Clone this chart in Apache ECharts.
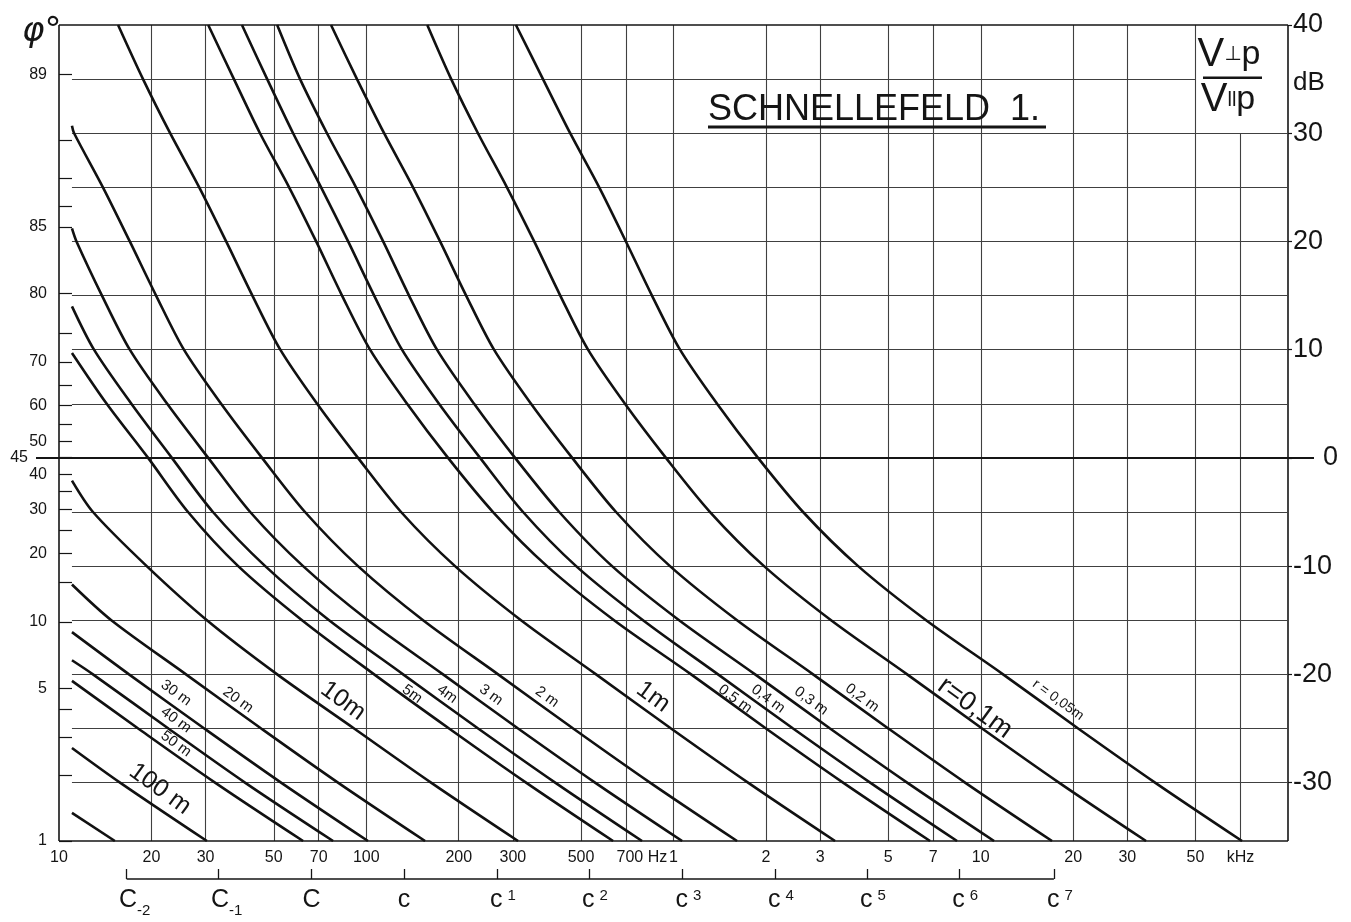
<!DOCTYPE html>
<html><head><meta charset="utf-8">
<script src="https://cdn.jsdelivr.net/npm/echarts@6/dist/echarts.min.js"></script>
<style>html,body{margin:0;padding:0;background:#fff;}#c{width:1351px;height:922px;}</style>
</head><body><div id="c"></div>
<script>
// ---------------- data ----------------
const dbFull = [40,35,30,25,20,15,10,5,0,-5,-10,-15,-20,-25,-30,-35.4];
const f_r005 = [307,376,461,573,700,851,1050,1386,1884,2640,3990,6640,11820,20750,36920,70860];
const f_r01  = [158,189,231,287,352,428,527,695,945,1315,1971,3257,5760,10100,17970,34510];
const f_r02  = [76.8,93.3,114.3,142,173.9,211.4,260.5,343.8,468,650,974,1610,2846,5000,8890,17060];
const f_r03  = [51.3,60.9,74.5,92.6,113.5,137.8,169.9,224.4,305,424.7,631,1043,1843,3232,5760,11050];
const f_r04  = [39.4,47.6,57.8,71.3,87.3,106.1,130.7,172.5,234.7,323.8,482,795.8,1396,2450,4366,8372];
const f_r05  = [30.6,37.1,45.1,56.1,68.7,83.4,102.9,135.8,184.6,258.6,387.6,640.5,1141,2000,3563,6840];
const f_r1   = [15.57,18.77,23.0,28.6,35.0,42.6,52.5,69.2,94.0,129.8,194.5,318.9,559.8,981.7,1748,3356];
const f_r2   = [11.02,11.2,13.9,17.0,20.7,25.5,33.7,45.8,63.2,94.0,153.1,268.6,471.5,838.8,1610];
const db_r2  = [30.7,30,25,20,15,10,5,0,-5,-10,-15,-20,-25,-30,-35.4];
const f_r3   = [11.02,11.4,13.8,17.0,22.5,30.6,41.9,62.3,101.3,177.8,312,555.5,1067];
const db_r3  = [21.2,20,15,10,5,0,-5,-10,-15,-20,-25,-30,-35.4];
const f_r4   = [11.02,13.0,17.2,23.3,31.7,46.9,75.7,131.8,231.3,412,790];
const db_r4  = [14.0,10,5,0,-5,-10,-15,-20,-25,-30,-35.4];
const f_r5   = [11.02,14.3,19.5,26.3,38.3,61.8,106.1,186,331.2,635.9];
const db_r5  = [9.7,5,0,-5,-10,-15,-20,-25,-30,-35.4];
const f_r10  = [11.02,12.9,19.3,30.3,51.3,91.3,162.5,312];
const db_r10 = [-2.1,-5,-10,-15,-20,-25,-30,-35.4];
const f_r20  = [11.02,14.8,25.9,45.5,80.9,155.4];
const db_r20 = [-11.7,-15,-20,-25,-30,-35.4];
const f_r30  = [11.02,16.9,29.7,52.8,101.3];
const db_r30 = [-16.1,-20,-25,-30,-35.4];
const f_r40  = [11.02,12.9,22.7,40.3,78.0];
const db_r40 = [-18.7,-20,-25,-30,-35.4];
const f_r50  = [11.02,18.1,32.2,62.3];
const db_r50 = [-20.6,-25,-30,-35.4];
const f_r100 = [11.02,15.8,30.3];
const db_r100= [-26.8,-30,-35.4];
const f_r200 = [11.02,15.2];
const db_r200= [-32.8,-35.4];

const gridFreqs  = [10,20,30,50,70,100,200,300,500,700,1000,2000,3000,5000,7000,10000,20000,30000,50000,70000,100000];
const freqLabels = ['10','20','30','50','70','100','200','300','500','700 Hz','1','2','3','5','7','10','20','30','50','kHz',''];
const dbGrid     = [35,30,25,20,15,10,5,-5,-10,-15,-20,-25,-30];
const dbLabels   = [40,30,20,10,0,-10,-20,-30];
const phiTicks   = [89,88,87,86,85,80,75,70,65,60,55,50,45,40,35,30,25,20,15,10,5,4,3,2,1];
const phiLabels  = [89,85,80,70,60,50,45,40,30,20,10,5,1];
const noteFreqs  = [16.6,33.1,66.3,132.7,266,531,1070,2140,4260,8500,17300];
const noteBase   = ['C','C','C','c','c','c','c','c','c','c','c'];
const noteIndex  = ['-2','-1','','','1','2','3','4','5','6','7'];

const curves = [
  {name:'0,05 m', f:f_r005, db:dbFull}, {name:'0,1 m', f:f_r01, db:dbFull},
  {name:'0,2 m', f:f_r02, db:dbFull}, {name:'0,3 m', f:f_r03, db:dbFull},
  {name:'0,4 m', f:f_r04, db:dbFull}, {name:'0,5 m', f:f_r05, db:dbFull},
  {name:'1 m', f:f_r1, db:dbFull}, {name:'2 m', f:f_r2, db:db_r2},
  {name:'3 m', f:f_r3, db:db_r3}, {name:'4 m', f:f_r4, db:db_r4},
  {name:'5 m', f:f_r5, db:db_r5}, {name:'10 m', f:f_r10, db:db_r10},
  {name:'20 m', f:f_r20, db:db_r20}, {name:'30 m', f:f_r30, db:db_r30},
  {name:'40 m', f:f_r40, db:db_r40}, {name:'50 m', f:f_r50, db:db_r50},
  {name:'100 m', f:f_r100, db:db_r100}, {name:'200 m', f:f_r200, db:db_r200}
];

// ---------------- layout / styling ----------------
const X_MIN = 8.417, X_MAX = 121500;   // axis range (frame = 10 Hz .. 100 kHz)
const Y_MIN = -35.4, Y_MAX = 40;
const F_START = 11.02;                  // where horizontal grid lines / curves begin
const phiToDb = p => 20 * Math.log10(Math.tan(p * Math.PI / 180));
const LEFT_MIN = phiToDb(1), LEFT_MAX = 39.7;
const FONT = "'Liberation Sans', Arial, sans-serif";
const INK = '#151515', GRID = '#404040';

const vLines = gridFreqs.map((f, i) => {
  const frame = (f === 10 || f === 100000);
  const lab = freqLabels[i];
  return [
    { coord: [f, Y_MIN],
      lineStyle: { width: frame ? 1.6 : 1.1, color: frame ? INK : GRID, type: 'solid' },
      label: { show: lab !== '', formatter: lab, padding: lab === '700 Hz' ? [0, 0, 0, 32] : 0 } },
    { coord: [f, f === 70000 ? 30 : Y_MAX] }
  ];
});
const hLines = dbGrid.map(v => [
  { coord: [F_START, v], lineStyle: { width: 1.1, color: GRID, type: 'solid' } },
  { coord: [v === 35 ? 50000 : 100000, v] }
]);
hLines.push([{ coord: [10, Y_MAX], lineStyle: { width: 1.6, color: INK, type: 'solid' } }, { coord: [100000, Y_MAX] }]);
hLines.push([{ coord: [10, Y_MIN], lineStyle: { width: 1.6, color: INK, type: 'solid' } }, { coord: [100000, Y_MIN] }]);
hLines.push({ yAxis: 0, lineStyle: { width: 1.9, color: INK, type: 'solid' } });

const noteLines = noteFreqs.map((f, i) => {
  const idx = noteIndex[i];
  let txt = '{b|' + noteBase[i] + '}';
  if (idx.startsWith('-')) txt += '{s|' + idx + '}';
  else if (idx) txt += '{p|' + idx + '}';
  return [
    { coord: [f, 0], lineStyle: { width: 1.3, color: INK, type: 'solid' },
      label: { show: true, formatter: txt, padding: idx.startsWith('-') ? [0, 0, 0, 16] : (idx ? [0, 0, 0, 12] : 0) } },
    { coord: [f, 1] }
  ];
});

const curveSeries = curves.map(c => ({
  type: 'line', name: c.name, xAxisIndex: 0, yAxisIndex: 0,
  data: c.f.map((f, i) => [f, c.db[i]]),
  showSymbol: false, symbol: 'none', smooth: 0.3,
  lineStyle: { color: '#111', width: 2.6 }, silent: true, z: 5
}));

const curveLabels = [
  ['30 m',176,693,15], ['40 m',176,720,15], ['50 m',176,744,15], ['100 m',160,789,25],
  ['20 m',238,700,15], ['10m',343,701,25], ['5m',412,694,15], ['4m',447,694,15],
  ['3 m',491,695,15], ['2 m',547,697,15], ['1m',653,697,25], ['0,5 m',735,699,15],
  ['0,4 m',768,699,15], ['0,3 m',811,701,15], ['0,2 m',862,698,15], ['r=0,1m',975,708,27],
  ['r = 0,05m',1058,700,14]
];
const ROT = -36 * Math.PI / 180;

const graphics = curveLabels.map(([t, x, y, s]) => ({
  type: 'text', x: x, y: y, rotation: ROT, z: 10, silent: true,
  style: { text: t, fill: INK, font: s + 'px ' + FONT, textAlign: 'center', textVerticalAlign: 'middle' }
}));
graphics.push(
  { type: 'text', x: 708, y: 110, z: 10, style: { text: 'SCHNELLEFELD  1.', fill: INK, font: '36px ' + FONT, textAlign: 'left', textVerticalAlign: 'middle' } },
  { type: 'rect', shape: { x: 708, y: 125.5, width: 338, height: 3 }, style: { fill: INK }, z: 10 },
  { type: 'text', x: 22, y: 32, z: 10, style: { text: 'φ°', fill: INK, font: 'italic 34px DejaVu Sans', textAlign: 'left', textVerticalAlign: 'middle' } },
  { type: 'rect', shape: { x: 1197, y: 27, width: 89, height: 104 }, style: { fill: '#fff' }, z: 2 },
  { type: 'text', x: 1229, y: 55, z: 10, style: {
      text: '{v|V}{s|⊥}{p|p}', textAlign: 'center', textVerticalAlign: 'middle',
      rich: { v: { font: "40px 'Liberation Sans Narrow', " + FONT, fill: INK },
              s: { font: '20px DejaVu Sans', fill: INK },
              p: { font: "34px 'Liberation Sans Narrow', " + FONT, fill: INK } } } },
  { type: 'rect', shape: { x: 1203, y: 76.5, width: 59, height: 2.6 }, style: { fill: INK }, z: 10 },
  { type: 'text', x: 1228, y: 100, z: 10, style: {
      text: '{v|V}{s|ll}{p|p}', textAlign: 'center', textVerticalAlign: 'middle',
      rich: { v: { font: "40px 'Liberation Sans Narrow', " + FONT, fill: INK },
              s: { font: "20px 'Liberation Sans Narrow', " + FONT, fill: INK },
              p: { font: "34px 'Liberation Sans Narrow', " + FONT, fill: INK } } } },
  { type: 'text', x: 1309, y: 83, z: 10, style: { text: 'dB', fill: INK, font: '26px ' + FONT, textAlign: 'center', textVerticalAlign: 'middle' } }
);

const option = {
  animation: false,
  backgroundColor: '#fff',
  textStyle: { fontFamily: FONT },
  grid: [
    { left: 36, right: 37, top: 25, bottom: 81, show: false },
    { left: 36, right: 37, top: 869, height: 10, show: false }
  ],
  xAxis: [
    { type: 'log', logBase: 10, min: X_MIN, max: X_MAX, gridIndex: 0,
      axisLine: { show: false }, axisTick: { show: false }, axisLabel: { show: false }, splitLine: { show: false } },
    { type: 'log', logBase: 10, min: X_MIN, max: X_MAX, gridIndex: 1, show: false }
  ],
  yAxis: [
    { type: 'value', gridIndex: 0, position: 'right', offset: -26, min: Y_MIN, max: Y_MAX,
      axisLine: { show: false }, splitLine: { show: false },
      axisTick: { show: true, customValues: dbLabels, length: 4, lineStyle: { color: INK, width: 1.2 } },
      axisLabel: { show: true, customValues: dbLabels, margin: 5, fontSize: 27, color: INK, fontFamily: FONT,
        formatter: v => (Math.abs(v) < 1e-9 ? '{z|0}' : String(Math.round(v))),
        rich: { z: { fontSize: 27, color: INK, fontFamily: FONT, padding: [0, 0, 0, 30] } } } },
    { type: 'value', gridIndex: 0, position: 'left', offset: -23, min: LEFT_MIN, max: LEFT_MAX,
      axisLine: { show: false }, splitLine: { show: false },
      axisTick: { show: true, inside: true, length: 13, customValues: phiTicks.map(phiToDb), lineStyle: { color: INK, width: 1.2 } },
      axisLabel: { show: true, customValues: phiLabels.map(phiToDb), margin: 12, fontSize: 16, color: INK, fontFamily: FONT,
        formatter: v => {
          let best = phiLabels[0], bd = 1e9;
          for (const p of phiLabels) { const d = Math.abs(phiToDb(p) - v); if (d < bd) { bd = d; best = p; } }
          return best === 45 ? '{f|45}' : String(best);
        },
        rich: { f: { fontSize: 16, color: INK, fontFamily: FONT, padding: [0, 19, 0, 0] } } } },
    { type: 'value', gridIndex: 1, min: 0, max: 1, show: false }
  ],
  series: [
    { type: 'line', xAxisIndex: 0, yAxisIndex: 0, data: [], silent: true, z: 1,
      markLine: { silent: true, symbol: ['none', 'none'], animation: false,
        label: { show: false, position: 'start', distance: 9, fontSize: 16, color: INK, fontFamily: FONT },
        emphasis: { disabled: true },
        data: vLines.concat(hLines) } },
    ...curveSeries,
    { type: 'line', xAxisIndex: 1, yAxisIndex: 2, clip: false, silent: true,
      data: [[noteFreqs[0], 0], [noteFreqs[noteFreqs.length - 1], 0]],
      showSymbol: false, symbol: 'none', lineStyle: { color: INK, width: 1.3 },
      markLine: { silent: true, symbol: ['none', 'none'], animation: false,
        label: { show: true, position: 'start', distance: 9, color: INK,
          rich: {
            b: { fontSize: 25, fontFamily: FONT, color: INK, lineHeight: 30, verticalAlign: 'top' },
            s: { fontSize: 15, fontFamily: FONT, color: INK, lineHeight: 15, verticalAlign: 'bottom' },
            p: { fontSize: 15, fontFamily: FONT, color: INK, lineHeight: 13, verticalAlign: 'top', padding: [0, 0, 0, 5] }
          } },
        emphasis: { disabled: true },
        data: noteLines } }
  ],
  graphic: graphics
};

const chart = echarts.init(document.getElementById('c'), null, { renderer: 'canvas' });
chart.setOption(option);
</script>
</body></html>
